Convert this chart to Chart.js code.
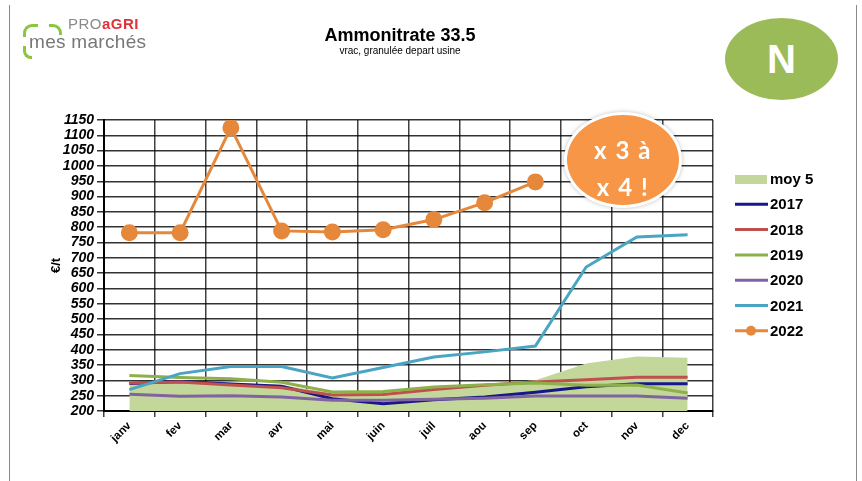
<!DOCTYPE html>
<html>
<head>
<meta charset="utf-8">
<script src="https://cdn.jsdelivr.net/npm/chart.js@4"></script>
<style>
  body { margin: 0; background: #fff; }
  #wrap { position: relative; width: 862px; height: 481px; overflow: hidden; font-family: "Liberation Sans", Arial, sans-serif; }
  #c { position: absolute; left: 0; top: 0; }
  .frame { position: absolute; top: 5px; bottom: 0; width: 1px; background: #8a8a8a; }
  .title { position: absolute; left: 250px; width: 300px; text-align: center; color: #000; line-height: 1; }
  .brk { position: absolute; border: 0 solid #8cc63f; }
  .bubble { position: absolute; border-radius: 50%; text-align: center; color: #fff; }
</style>
</head>
<body>
<div id="wrap">
  <canvas id="c" width="862" height="481"></canvas>
  <div class="frame" style="left:9px"></div>
  <div class="frame" style="left:856px"></div>

  <!-- logo -->
  <div class="brk" style="left:23px;top:24px;width:12px;height:10px;border-left-width:3px;border-top-width:3px;border-top-left-radius:9px"></div>
  <div class="brk" style="left:49px;top:24px;width:10px;height:8px;border-right-width:3px;border-top-width:3px;border-top-right-radius:9px"></div>
  <div class="brk" style="left:23px;top:46px;width:6px;height:10px;border-left-width:3px;border-bottom-width:3px;border-bottom-left-radius:8px"></div>
  <div style="position:absolute;left:68px;top:16px;font-size:15px;line-height:1;letter-spacing:0.5px;color:#8a8a8a">PRO<span style="color:#e0303a;font-weight:bold">aGRI</span></div>
  <div style="position:absolute;left:29px;top:32px;font-size:19px;line-height:1;letter-spacing:0.3px;color:#777">mes marchés</div>

  <div class="title" style="top:26px;font-size:18px;font-weight:bold">Ammonitrate 33.5</div>
  <div class="title" style="top:46px;font-size:10px">vrac, granulée depart usine</div>

  <div class="bubble" style="left:725px;top:18px;width:113px;height:82px;background:#9bbb59;font:bold 40px 'Liberation Sans',Arial,sans-serif;line-height:82px">N</div>
  <div class="bubble" style="left:564px;top:112px;width:112px;background:#f79646;border:3px solid #fff;box-shadow:0 0 4px rgba(0,0,0,0.25);font:bold 24px Lato,sans-serif;letter-spacing:1.5px;line-height:37px;padding-top:16px;height:74px">x 3 à<br>x 4 !</div>
</div>
<script>
const months = ['janv', 'fev', 'mar', 'avr', 'mai', 'juin', 'juil', 'aou', 'sep', 'oct', 'nov', 'dec'];
const moy5 = [287, 293, 292, 285, 258, 260, 275, 288, 300, 355, 378, 374];
const y2017 = [290, 296, 288, 281, 240, 224, 237, 246, 261, 279, 289, 289];
const y2018 = [291, 295, 285, 276, 252, 254, 270, 284, 295, 302, 310, 310];
const y2019 = [316, 309, 305, 294, 262, 264, 278, 286, 291, 284, 285, 259];
const y2020 = [255, 248, 250, 246, 235, 235, 238, 242, 249, 249, 249, 242];
const y2021 = [270, 322, 345, 345, 308, 342, 376, 393, 412, 670, 768, 775];
const y2022 = [782, 782, 1125, 788, 784, 792, 825, 880, 948, null, null, null];

const line = (label, data, color, order) => ({
    label: label,
    data: data,
    borderColor: color,
    backgroundColor: color,
    borderWidth: 3,
    pointRadius: 0,
    tension: 0,
    fill: false,
    order: order
});

// legend drawn by hand, to the right of the plot
const sideLegend = {
    id: 'sideLegend',
    afterDraw(chart) {
        const ctx = chart.ctx;
        ctx.save();
        chart.data.datasets.forEach((ds, i) => {
            const y = 179 + i * 25.3;
            if (ds.fill) {
                ctx.fillStyle = ds.backgroundColor;
                ctx.fillRect(735, y - 4, 32, 9);
            } else {
                ctx.strokeStyle = ds.borderColor;
                ctx.lineWidth = 3;
                ctx.beginPath();
                ctx.moveTo(735, y);
                ctx.lineTo(768, y);
                ctx.stroke();
                if (ds.pointRadius > 0) {
                    ctx.fillStyle = ds.borderColor;
                    ctx.beginPath();
                    ctx.arc(751, y, 5, 0, Math.PI * 2);
                    ctx.fill();
                }
            }
            ctx.fillStyle = '#000';
            ctx.font = 'bold 15px "Liberation Sans", Arial, sans-serif';
            ctx.textBaseline = 'middle';
            ctx.fillText(ds.label, 770, y + 1);
        });
        ctx.restore();
    }
};

new Chart(document.getElementById('c'), {
    type: 'line',
    data: {
        labels: months,
        datasets: [
            {
                label: 'moy 5',
                data: moy5,
                borderWidth: 0,
                pointRadius: 0,
                backgroundColor: '#c4d79b',
                fill: 'start',
                order: 7
            },
            line('2017', y2017, '#17178a', 6),
            line('2018', y2018, '#c0504d', 5),
            line('2019', y2019, '#8db04a', 4),
            line('2020', y2020, '#8064a2', 3),
            line('2021', y2021, '#4aa5c2', 2),
            Object.assign(line('2022', y2022, '#e5883b', 1), { pointRadius: 7, pointHoverRadius: 7 })
        ]
    },
    options: {
        responsive: false,
        animation: false,
        layout: {
            padding: { left: 40, right: 149, top: 120, bottom: 20 }
        },
        plugins: {
            legend: { display: false },
            tooltip: { enabled: false }
        },
        scales: {
            x: {
                offset: true,
                grid: { offset: true, color: 'rgba(0,0,0,0.75)', lineWidth: 1.5, tickLength: 6 },
                border: { color: '#000', width: 2 },
                ticks: {
                    color: '#000',
                    font: { family: '"Liberation Sans", Arial, sans-serif', size: 11.5, weight: 'bold' },
                    minRotation: 45,
                    maxRotation: 45,
                    autoSkip: false,
                    padding: 2
                },
                afterFit: s => { s.height = 50; }
            },
            y: {
                min: 200,
                max: 1150,
                grid: { color: 'rgba(0,0,0,0.8)', lineWidth: 1.5, tickLength: 7 },
                border: { color: '#000', width: 2 },
                ticks: {
                    stepSize: 50,
                    autoSkip: false,
                    color: '#000',
                    padding: 3,
                    callback: v => String(v),
                    font: { family: '"Liberation Sans", Arial, sans-serif', size: 14, weight: 'bold', style: 'italic' }
                },
                title: {
                    display: true,
                    text: '€/t',
                    color: '#000',
                    padding: { top: 9, bottom: 0 },
                    font: { family: '"Liberation Sans", Arial, sans-serif', size: 13, weight: 'bold' }
                },
                afterFit: s => { s.width = 64; }
            }
        }
    },
    plugins: [sideLegend]
});
</script>
</body>
</html>
